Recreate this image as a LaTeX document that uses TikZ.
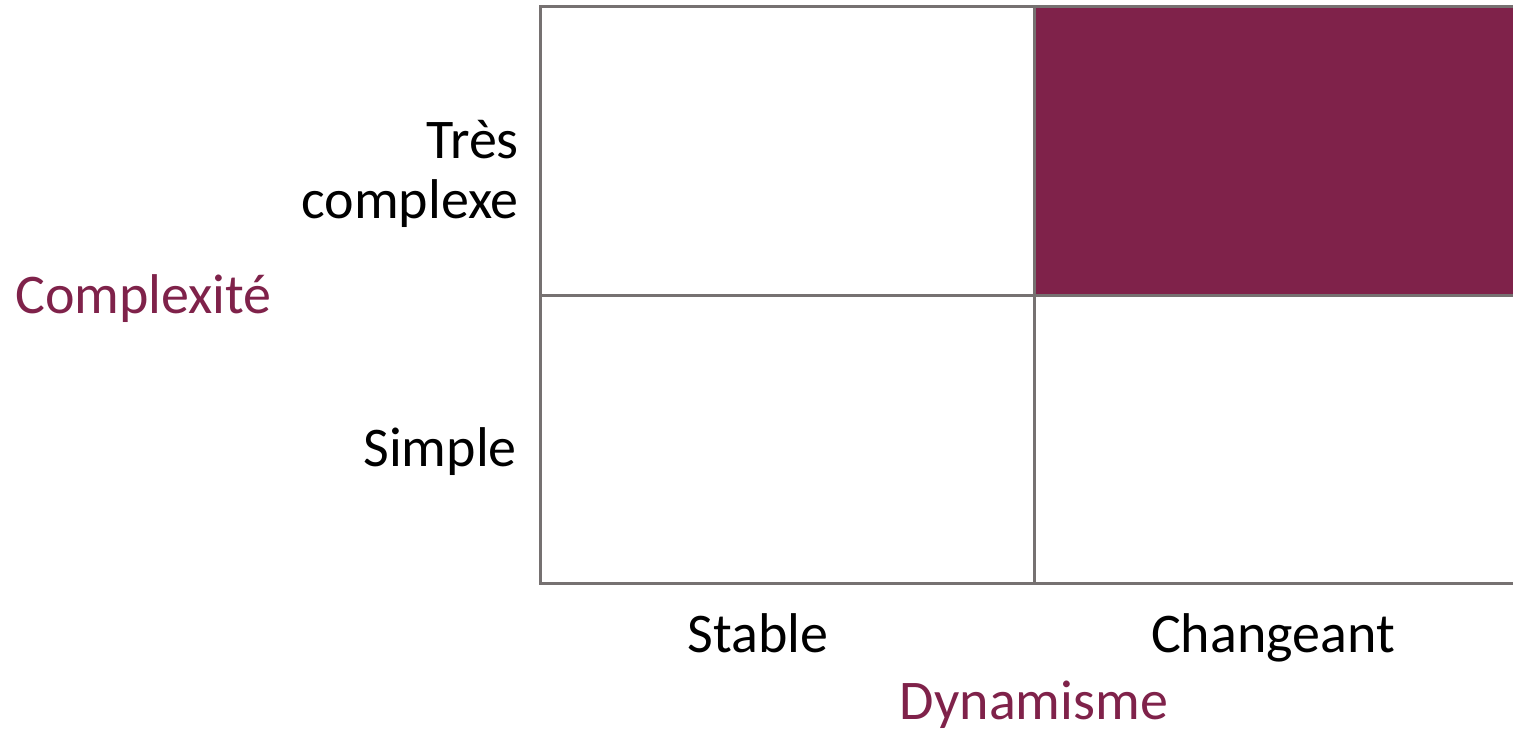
\documentclass[tikz,border=0pt]{standalone}
\usepackage{fontspec}
\setmainfont{Carlito}
\definecolor{gridgray}{HTML}{767171}
\definecolor{wine}{HTML}{7F224A}
\begin{document}
\begin{tikzpicture}[x=1pt,y=-1pt,
  lbl/.style={font=\fontsize{56}{68}\selectfont, text=black, inner sep=0pt},
  axis/.style={font=\fontsize{56}{68}\selectfont, text=wine, inner sep=0pt},
  gridline/.style={draw=gridgray, line width=3pt}]
\useasboundingbox (0,0) rectangle (1513,733);
\fill[wine] (1034,7) rectangle (1513,295);
\coordinate (tl) at (540,7);
\coordinate (tr) at (1513,7);
\coordinate (ml) at (540,295);
\coordinate (mr) at (1513,295);
\coordinate (bl) at (540,583);
\coordinate (br) at (1513,583);
\coordinate (mt) at (1034,7);
\coordinate (mb) at (1034,583);
\draw[gridline] (tr) -- (tl) -- (bl) -- (br);
\draw[gridline] (ml) -- (mr);
\draw[gridline] (mt) -- (mb);
\node[lbl, anchor=base east] (tres) at (519,158) {Très};
\node[lbl, anchor=base east] (complexe) at (519,218) {complexe};
\node[lbl, anchor=base east] (simple) at (517,466) {Simple};
\node[lbl, anchor=base] (stable) at (758,652) {Stable};
\node[lbl, anchor=base] (changeant) at (1273,652) {Changeant};
\node[axis, anchor=base west] (complexite) at (15,313) {Complexité};
\node[axis, anchor=base] (dynamisme) at (1034,719) {Dynamisme};
\end{tikzpicture}
\end{document}
